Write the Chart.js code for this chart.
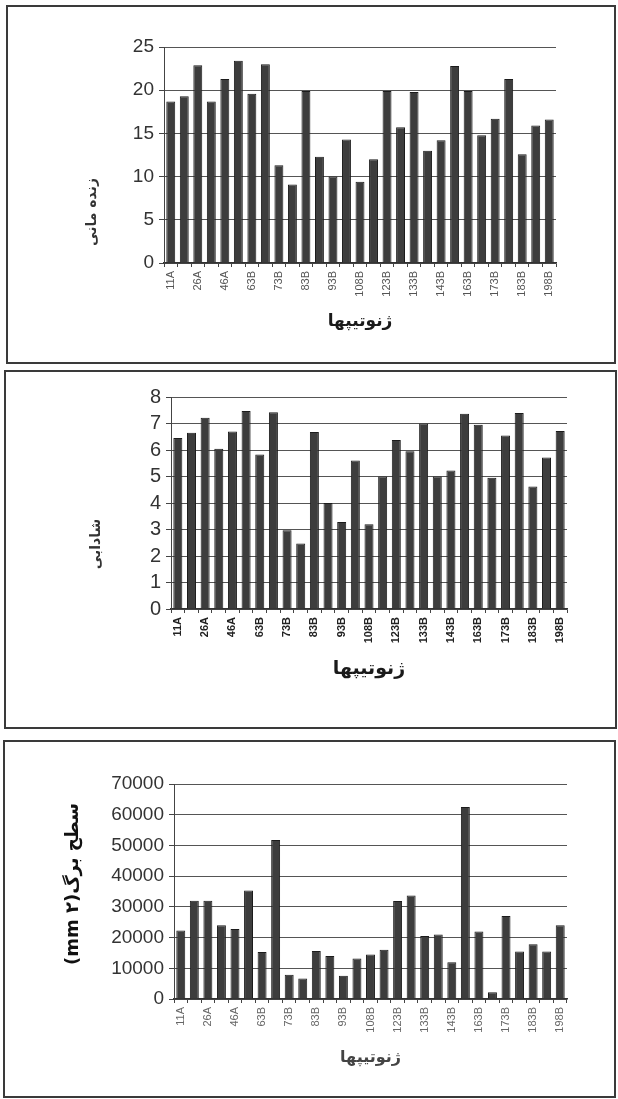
<!DOCTYPE html>
<html>
<head>
<meta charset="utf-8">
<script src="https://cdn.jsdelivr.net/npm/chart.js@4.4.0/dist/chart.umd.min.js"></script>
<style>
  body { margin: 0; width: 618px; height: 1099px; background: #fff; position: relative; overflow: hidden; }
  .panel { position: absolute; border: 2px solid #3a3a3a; box-sizing: border-box; background: #fff; }
  .panel canvas { display: block; }
</style>
</head>
<body>
<div class="panel" style="left:6px;top:5px;width:610px;height:359px"><canvas id="survivalChart" width="606" height="355"></canvas></div>
<div class="panel" style="left:4px;top:370px;width:613px;height:359px"><canvas id="vigorChart" width="609" height="355"></canvas></div>
<div class="panel" style="left:3px;top:740px;width:613px;height:358px"><canvas id="leafChart" width="609" height="354"></canvas></div>
<script>
// genotype labels shown under every other bar
const tickLabels = ["11A", "26A", "46A", "63B", "73B", "83B", "93B", "108B", "123B", "133B", "143B", "163B", "173B", "183B", "198B"];

// زنده مانی
const survival = [18.7, 19.3, 22.9, 18.7, 21.3, 23.4, 19.6, 23.0, 11.3, 9.1, 19.9, 12.3, 10.0, 14.3, 9.4,
  12.0, 19.9, 15.7, 19.8, 13.0, 14.2, 22.8, 19.9, 14.8, 16.7, 21.3, 12.6, 15.9, 16.6];

// شادابی
const vigor = [6.45, 6.65, 7.22, 6.05, 6.7, 7.47, 5.83, 7.42, 2.97, 2.47, 6.68, 4.0, 3.28, 5.6, 3.2,
  5.0, 6.38, 5.95, 7.0, 5.0, 5.23, 7.37, 6.95, 4.95, 6.55, 7.4, 4.62, 5.72, 6.72];

// سطح برگ
const leafArea = [22300, 32000, 32000, 24000, 22800, 35300, 15300, 51800, 7900, 6700, 15600, 14000, 7600, 13200, 14500,
  16000, 31900, 33700, 20500, 21000, 12000, 62500, 22000, 2200, 27000, 15500, 17800, 15500, 24000];

const categories = tickLabels.flatMap((t, i) => (i < tickLabels.length - 1 ? [t, ""] : [t]));

Chart.defaults.font.family = "'Liberation Sans', Arial, sans-serif";
Chart.defaults.animation = false;

// rotated persian y title, drawn beside the axis
const sideTitle = {
  id: "sideTitle",
  afterDraw(chart, args, opts) {
    const ctx = chart.ctx;
    ctx.save();
    ctx.translate(opts.x, opts.y);
    ctx.rotate(-Math.PI / 2);
    ctx.font = opts.font;
    ctx.fillStyle = opts.color || "#222";
    ctx.direction = "rtl";
    ctx.textAlign = "center";
    ctx.textBaseline = "middle";
    ctx.fillText(opts.text, 0, 0);
    ctx.restore();
  },
};

function makeChart(id, values, cfg) {
  new Chart(document.getElementById(id), {
    type: "bar",
    data: {
      labels: categories,
      datasets: [
        {
          data: values,
          backgroundColor: "#3d3d3d",
          borderColor: "#1c1c1c",
          borderWidth: 1,
          barPercentage: 0.66,
          categoryPercentage: 1,
        },
      ],
    },
    options: {
      responsive: false,
      devicePixelRatio: 1,
      layout: { padding: cfg.padding },
      plugins: {
        legend: { display: false },
        tooltip: { enabled: false },
        sideTitle: cfg.yTitle,
      },
      scales: {
        x: {
          afterFit: (scale) => { scale.height = cfg.xHeight; },
          grid: { drawOnChartArea: false, drawTicks: true, tickLength: 4, color: "#444", offset: true },
          border: { color: "#333", width: 1.5 },
          ticks: {
            autoSkip: false,
            maxRotation: 90,
            minRotation: 90,
            padding: 4,
            color: cfg.xTickColor,
            font: cfg.xTickFont,
          },
          title: {
            display: true,
            text: "ژنوتیپها",
            color: cfg.xTitleColor,
            font: cfg.xTitleFont,
            padding: { top: 0, bottom: cfg.xTitlePad },
          },
        },
        y: {
          min: 0,
          max: cfg.yMax,
          afterFit: (scale) => { scale.width = cfg.yWidth; },
          grid: { color: "#555", lineWidth: 1, tickLength: 5, tickColor: "#444" },
          border: { color: "#444", width: 1 },
          ticks: {
            stepSize: cfg.yStep,
            autoSkip: false,
            padding: 5,
            color: "#333",
            font: cfg.yTickFont,
            callback: (value) => String(value),
          },
        },
      },
    },
    plugins: [sideTitle],
  });
}

makeChart("survivalChart", survival, {
  yMax: 25,
  yStep: 5,
  yWidth: 156,
  xHeight: 99,
  padding: { left: 0, top: 40, right: 58, bottom: 0 },
  yTickFont: { size: 19 },
  xTickFont: { size: 11 },
  xTickColor: "#555",
  xTitleFont: { family: "'DejaVu Sans'", size: 17, weight: "bold" },
  xTitleColor: "#1a1a1a",
  xTitlePad: 30,
  yTitle: { text: "زنده مانی", x: 84, y: 205, font: "bold 14px 'DejaVu Sans'", color: "#333" },
});

makeChart("vigorChart", vigor, {
  yMax: 8,
  yStep: 1,
  yWidth: 165,
  xHeight: 118,
  padding: { left: 0, top: 25, right: 48, bottom: 0 },
  yTickFont: { size: 20 },
  xTickFont: { size: 11, weight: "bold" },
  xTickColor: "#222",
  xTitleFont: { family: "'DejaVu Sans'", size: 19, weight: "bold" },
  xTitleColor: "#1a1a1a",
  xTitlePad: 47,
  yTitle: { text: "شادابی", x: 90, y: 172, font: "bold 14px 'DejaVu Sans'", color: "#333" },
});

makeChart("leafChart", leafArea, {
  yMax: 70000,
  yStep: 10000,
  yWidth: 169,
  xHeight: 97,
  padding: { left: 0, top: 42, right: 47, bottom: 0 },
  yTickFont: { size: 19 },
  xTickFont: { size: 11 },
  xTickColor: "#666",
  xTitleFont: { family: "'DejaVu Sans'", size: 16, weight: "bold" },
  xTitleColor: "#444",
  xTitlePad: 29,
  yTitle: { text: "سطح برگ(mm ۲)", x: 68, y: 142, font: "bold 18px 'DejaVu Sans'", color: "#111" },
});
</script>
</body>
</html>
